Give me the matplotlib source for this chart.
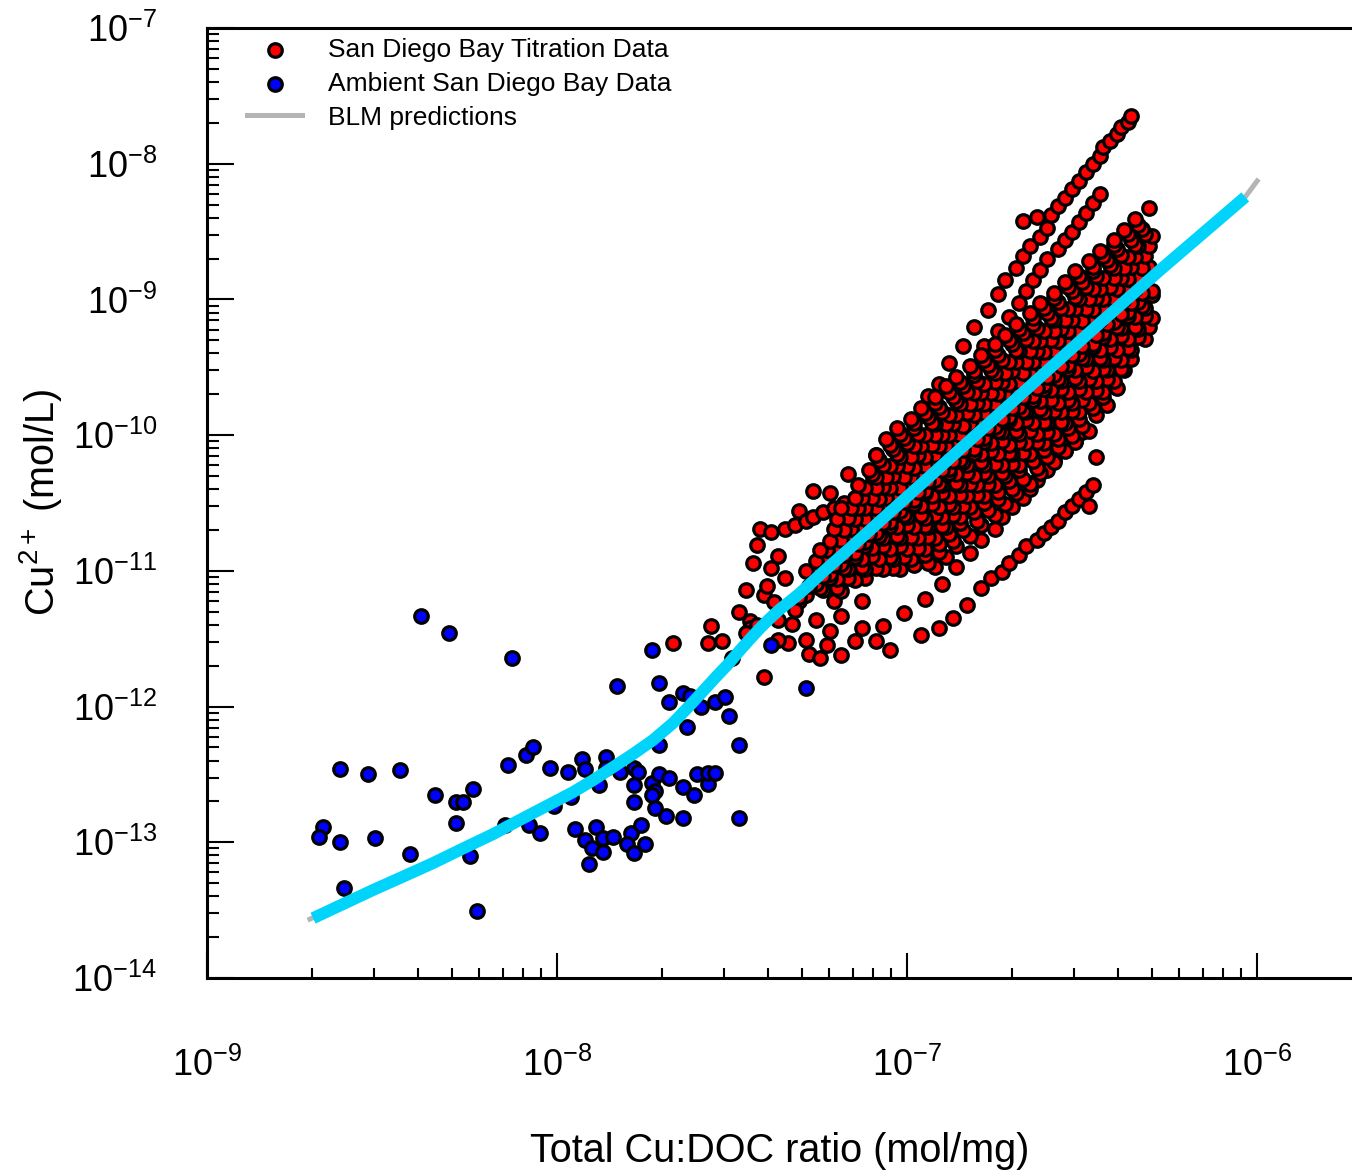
import numpy as np
import matplotlib
matplotlib.use("Agg")
import matplotlib.pyplot as plt
from matplotlib.ticker import FixedLocator, LogLocator, NullFormatter, LogFormatterSciNotation

plt.rcParams['font.family'] = ['Liberation Sans', 'DejaVu Sans']
plt.rcParams['mathtext.fontset'] = 'custom'
plt.rcParams['mathtext.rm'] = 'Liberation Sans'
plt.rcParams['mathtext.it'] = 'Liberation Sans:italic'
plt.rcParams['mathtext.bf'] = 'Liberation Sans:bold'

# all values as log10 ; x = Cu:DOC (mol/mg), y = Cu2+ (mol/L)

# ambient San Diego Bay samples
amb_x = [-8.39, -8.31, -8.13, -8.62, -8.54, -8.45, -8.35, -8.29, -8.27, -8.24,
         -8.29, -8.14, -8.09, -8.07, -8.02, -8.67, -8.68, -8.62, -8.52, -8.42,
         -8.61, -8.23, -8.25, -8.15, -8.08, -8.05, -8.01, -7.97, -7.96, -7.93,
         -7.92, -7.95, -7.92, -7.90, -7.91, -7.89, -7.88, -7.86, -7.86, -7.82,
         -7.78, -7.77, -7.78, -7.78, -7.73, -7.72, -7.73, -7.71, -7.68, -7.64,
         -7.61, -7.60, -7.57, -7.57, -7.55, -7.72, -7.69, -7.64, -7.87, -7.87,
         -7.84, -7.79, -7.76, -7.80, -7.78, -7.75, -7.73, -7.83, -7.71, -7.68,
         -7.64, -7.62, -7.63, -7.71, -7.55, -7.52, -7.51, -7.59, -7.48, -7.39,
         -7.29, -7.48]
amb_y = [-11.33, -11.46, -11.64, -12.46, -12.50, -12.47, -12.65, -12.70, -12.70, -12.61,
         -12.86, -12.43, -12.36, -12.30, -12.45, -12.89, -12.96, -13.00, -12.97, -13.09,
         -13.34, -13.51, -13.10, -12.87, -12.87, -12.93, -12.73, -12.48, -12.67, -12.39,
         -12.46, -12.90, -12.98, -13.04, -13.16, -12.89, -12.58, -12.37, -12.45, -12.48,
         -12.45, -12.48, -12.58, -12.70, -12.56, -12.62, -12.65, -12.50, -12.53, -12.59,
         -12.65, -12.50, -12.57, -12.49, -12.49, -12.75, -12.81, -12.82, -12.97, -13.07,
         -12.96, -12.93, -12.87, -13.01, -13.08, -13.01, -11.58, -11.85, -11.83, -11.97,
         -11.90, -11.92, -12.15, -12.28, -11.97, -11.93, -12.07, -12.00, -12.28, -11.55,
         -11.86, -12.82]

# titration data, sample by sample
t_low_x = [-7.56, -7.57, -7.53, -7.48, -7.45, -7.45, -7.43, -7.46, -7.41, -7.50,
           -7.46, -7.41, -7.38, -7.34, -7.37, -7.33, -7.28, -7.25, -7.67, -7.37,
           -7.39, -7.35, -7.40, -7.43, -7.44, -7.31, -7.26, -7.22, -7.19, -7.13,
           -7.29, -7.23, -7.19, -7.13, -7.21, -7.32, -7.37, -7.27, -7.22, -7.17,
           -7.09, -7.04, -7.31, -7.15, -7.09, -7.05]
t_low_y = [-11.41, -11.53, -11.52, -11.30, -11.37, -11.42, -11.40, -11.46, -11.78, -11.64,
           -11.14, -11.18, -11.23, -11.53, -11.51, -11.39, -11.61, -11.64, -11.53, -10.89,
           -10.98, -11.05, -11.11, -10.81, -10.94, -11.22, -11.36, -11.44, -11.33, -11.22,
           -11.51, -11.55, -11.62, -11.42, -11.22, -11.29, -11.36, -10.41, -10.43, -10.29,
           -10.15, -10.10, -10.56, -11.52, -11.52, -11.58]

t_uc_x = [-7.42, -7.39, -7.35, -7.32, -7.29, -7.27, -7.24, -7.21, -7.18, -7.15, -7.13, -7.10, -7.07, -7.04, -7.01]
t_uc_y = [-10.69, -10.71, -10.69, -10.66, -10.63, -10.60, -10.57, -10.54, -10.50, -10.46, -10.41, -10.35, -10.29, -10.22, -10.15]

t_s1_x = [-6.67, -6.63, -6.59, -6.57, -6.55, -6.53, -6.51, -6.49, -6.47, -6.45, -6.44, -6.42, -6.40, -6.39, -6.37, -6.36]
t_s1_y = [-8.42, -8.39, -8.38, -8.31, -8.25, -8.19, -8.13, -8.06, -8.00, -7.94, -7.88, -7.83, -7.78, -7.73, -7.69, -7.65]

t_s2_x = [-6.94, -6.91, -6.88, -6.84, -6.81, -6.77, -6.74, -6.72, -6.69, -6.67, -6.65, -6.62, -6.60]
t_s2_y = [-9.71, -9.62, -9.47, -9.34, -9.20, -9.08, -8.96, -8.86, -8.77, -8.68, -8.61, -8.54, -8.47]

t_s3_x = [-6.78, -6.74, -6.71, -6.68, -6.66, -6.64, -6.62, -6.60, -6.57, -6.55, -6.53, -6.51, -6.49, -6.47, -6.45]
t_s3_y = [-9.34, -9.23, -9.13, -9.03, -8.94, -8.86, -8.78, -8.70, -8.63, -8.56, -8.50, -8.43, -8.36, -8.29, -8.22]

t_b1_x = [-6.96, -6.91, -6.87, -6.83, -6.79, -6.76, -6.73, -6.71, -6.68, -6.66,
          -6.63, -6.61, -6.59, -6.57, -6.55, -6.53, -6.51, -6.49, -6.47, -6.48]
t_b1_y = [-11.47, -11.42, -11.35, -11.25, -11.13, -11.05, -11.01, -10.94, -10.88, -10.82,
          -10.77, -10.72, -10.68, -10.63, -10.57, -10.52, -10.47, -10.42, -10.37, -10.52]

t_b2_x = [-7.07, -7.01, -6.95, -6.90, -6.86, -6.82, -6.79, -6.75, -6.73, -6.70,
          -6.67, -6.65, -6.63, -6.60, -6.58, -6.55, -6.52, -6.50, -6.46]
t_b2_y = [-11.41, -11.31, -11.21, -11.10, -10.97, -10.87, -10.77, -10.69, -10.60, -10.53,
          -10.46, -10.40, -10.33, -10.26, -10.18, -10.11, -10.04, -9.98, -10.16]

t_f1_x = [-7.06, -7.03, -6.99, -6.96, -6.92, -6.89, -6.86, -6.82, -6.79, -6.75, -6.72, -6.69,
          -6.65, -6.62, -6.58, -6.55, -6.52, -6.48, -6.45, -6.41, -6.38, -6.35, -6.31]
t_f1_y = [-10.03, -9.95, -9.88, -9.80, -9.72, -9.64, -9.57, -9.49, -9.41, -9.33, -9.26, -9.18,
          -9.10, -9.03, -8.95, -8.87, -8.79, -8.72, -8.64, -8.56, -8.49, -8.41, -8.33]

t_f2_x = [-7.11, -7.08, -7.04, -7.01, -6.98, -6.94, -6.91, -6.87, -6.84, -6.81, -6.77, -6.74,
          -6.70, -6.67, -6.64, -6.60, -6.57, -6.53, -6.50, -6.47, -6.43, -6.40, -6.36, -6.33]
t_f2_y = [-10.26, -10.18, -10.10, -10.02, -9.95, -9.87, -9.79, -9.72, -9.64, -9.56, -9.48, -9.41,
          -9.33, -9.25, -9.18, -9.10, -9.02, -8.94, -8.87, -8.79, -8.71, -8.63, -8.56, -8.48]

t_f3_x = [-7.19, -7.15, -7.12, -7.09, -7.05, -7.02, -6.98, -6.95, -6.92, -6.88, -6.85, -6.81, -6.78, -6.75,
          -6.71, -6.68, -6.64, -6.61, -6.58, -6.54, -6.51, -6.47, -6.44, -6.41, -6.37, -6.34, -6.30]
t_f3_y = [-10.54, -10.46, -10.39, -10.31, -10.23, -10.16, -10.08, -10.00, -9.92, -9.85, -9.77, -9.69, -9.62, -9.54,
          -9.46, -9.38, -9.31, -9.23, -9.15, -9.07, -9.00, -8.92, -8.84, -8.77, -8.69, -8.61, -8.53]

t_f4_x = [-7.21, -7.17, -7.14, -7.10, -7.07, -7.04, -7.00, -6.97, -6.93, -6.90, -6.87, -6.83, -6.80, -6.76,
          -6.73, -6.70, -6.66, -6.63, -6.59, -6.56, -6.53, -6.49, -6.46, -6.42, -6.39, -6.36, -6.32]
t_f4_y = [-10.69, -10.61, -10.54, -10.46, -10.38, -10.30, -10.23, -10.15, -10.07, -10.00, -9.92, -9.84, -9.76, -9.69,
          -9.61, -9.53, -9.46, -9.38, -9.30, -9.22, -9.15, -9.07, -8.99, -8.91, -8.84, -8.76, -8.68]

t_f5_x = [-7.29, -7.26, -7.23, -7.19, -7.16, -7.12, -7.09, -7.06, -7.02, -6.99, -6.95, -6.92, -6.89, -6.85, -6.82,
          -6.78, -6.75, -6.72, -6.68, -6.65, -6.61, -6.58, -6.55, -6.51, -6.48, -6.44, -6.41, -6.38, -6.34, -6.31]
t_f5_y = [-11.00, -10.93, -10.85, -10.77, -10.69, -10.62, -10.54, -10.46, -10.39, -10.31, -10.23, -10.15, -10.08, -10.00, -9.92,
          -9.84, -9.77, -9.69, -9.61, -9.54, -9.46, -9.38, -9.30, -9.23, -9.15, -9.07, -9.00, -8.92, -8.84, -8.76]

t_f6_x = [-7.31, -7.28, -7.24, -7.21, -7.18, -7.14, -7.11, -7.07, -7.04, -7.01, -6.97, -6.94, -6.90, -6.87, -6.84,
          -6.80, -6.77, -6.73, -6.70, -6.67, -6.63, -6.60, -6.56, -6.53, -6.50, -6.46, -6.43, -6.39, -6.36, -6.33]
t_f6_y = [-11.19, -11.11, -11.04, -10.96, -10.88, -10.80, -10.73, -10.65, -10.57, -10.49, -10.42, -10.34, -10.26, -10.19, -10.11,
          -10.03, -9.95, -9.88, -9.80, -9.72, -9.65, -9.57, -9.49, -9.41, -9.34, -9.26, -9.18, -9.11, -9.03, -8.95]

t_f7_x = [-7.25, -7.22, -7.18, -7.15, -7.12, -7.08, -7.05, -7.01, -6.98, -6.95, -6.91, -6.88, -6.84, -6.81, -6.78,
          -6.74, -6.71, -6.67, -6.64, -6.61, -6.57, -6.54, -6.50, -6.47, -6.44, -6.40, -6.37, -6.33, -6.30]
t_f7_y = [-11.13, -11.05, -10.98, -10.90, -10.82, -10.74, -10.67, -10.59, -10.51, -10.43, -10.36, -10.28, -10.20, -10.13, -10.05,
          -9.97, -9.89, -9.82, -9.74, -9.66, -9.59, -9.51, -9.43, -9.35, -9.28, -9.20, -9.12, -9.05, -8.97]

t_f8_x = [-7.20, -7.17, -7.13, -7.10, -7.07, -7.03, -7.00, -6.96, -6.93, -6.90, -6.86, -6.83, -6.79, -6.76,
          -6.73, -6.69, -6.66, -6.62, -6.59, -6.56, -6.52, -6.49, -6.45, -6.42, -6.39, -6.35, -6.32]
t_f8_y = [-11.13, -11.05, -10.97, -10.89, -10.82, -10.74, -10.66, -10.59, -10.51, -10.43, -10.35, -10.28, -10.20, -10.12,
          -10.04, -9.97, -9.89, -9.81, -9.74, -9.66, -9.58, -9.50, -9.43, -9.35, -9.27, -9.20, -9.12]

t_f9_x = [-7.12, -7.09, -7.05, -7.02, -6.99, -6.95, -6.92, -6.88, -6.85, -6.82, -6.78, -6.75, -6.71,
          -6.68, -6.65, -6.61, -6.58, -6.54, -6.51, -6.48, -6.44, -6.41, -6.37, -6.34, -6.31]
t_f9_y = [-11.05, -10.98, -10.90, -10.82, -10.75, -10.67, -10.59, -10.51, -10.44, -10.36, -10.28, -10.21, -10.13,
          -10.05, -9.97, -9.90, -9.82, -9.74, -9.66, -9.59, -9.51, -9.43, -9.36, -9.28, -9.20]

t_f10_x = [-7.04, -7.01, -6.97, -6.94, -6.90, -6.87, -6.84, -6.80, -6.77, -6.73, -6.70,
           -6.67, -6.63, -6.60, -6.56, -6.53, -6.50, -6.46, -6.43, -6.39, -6.36]
t_f10_y = [-10.98, -10.90, -10.83, -10.75, -10.67, -10.59, -10.52, -10.44, -10.36, -10.28, -10.21,
           -10.13, -10.05, -9.98, -9.90, -9.82, -9.74, -9.67, -9.59, -9.51, -9.44]

t_f11_x = [-6.98, -6.95, -6.91, -6.88, -6.85, -6.81, -6.78, -6.74, -6.71, -6.68, -6.64, -6.61, -6.57, -6.54, -6.51, -6.47, -6.44, -6.40]
t_f11_y = [-10.96, -10.88, -10.80, -10.73, -10.65, -10.57, -10.50, -10.42, -10.34, -10.26, -10.19, -10.11, -10.03, -9.95, -9.88, -9.80, -9.72, -9.65]

t_f12_x = [-6.92, -6.89, -6.86, -6.82, -6.79, -6.75, -6.72, -6.69, -6.65, -6.62, -6.58, -6.55, -6.52, -6.48]
t_f12_y = [-10.97, -10.90, -10.82, -10.74, -10.66, -10.59, -10.51, -10.43, -10.36, -10.28, -10.20, -10.12, -10.05, -9.97]

t_g1_x = [-7.09, -7.05, -7.02, -6.98, -6.95, -6.92, -6.88, -6.85, -6.81, -6.78, -6.75, -6.71,
          -6.68, -6.64, -6.61, -6.58, -6.54, -6.51, -6.47, -6.44, -6.41, -6.37, -6.34]
t_g1_y = [-10.15, -10.07, -9.99, -9.91, -9.84, -9.76, -9.68, -9.61, -9.53, -9.45, -9.37, -9.30,
          -9.22, -9.14, -9.06, -8.99, -8.91, -8.83, -8.76, -8.68, -8.60, -8.52, -8.45]

t_g2_x = [-7.14, -7.10, -7.07, -7.03, -7.00, -6.97, -6.93, -6.90, -6.86, -6.83, -6.80, -6.76, -6.73,
          -6.69, -6.66, -6.63, -6.59, -6.56, -6.52, -6.49, -6.46, -6.42, -6.39, -6.35, -6.32]
t_g2_y = [-10.37, -10.29, -10.22, -10.14, -10.06, -9.99, -9.91, -9.83, -9.75, -9.68, -9.60, -9.52, -9.45,
          -9.37, -9.29, -9.21, -9.14, -9.06, -8.98, -8.91, -8.83, -8.75, -8.67, -8.60, -8.52]

t_g3_x = [-7.20, -7.16, -7.13, -7.09, -7.06, -7.03, -6.99, -6.96, -6.92, -6.89, -6.86, -6.82, -6.79, -6.75,
          -6.72, -6.69, -6.65, -6.62, -6.58, -6.55, -6.52, -6.48, -6.45, -6.41, -6.38, -6.35, -6.31]
t_g3_y = [-10.62, -10.54, -10.46, -10.39, -10.31, -10.23, -10.16, -10.08, -10.00, -9.92, -9.85, -9.77, -9.69, -9.61,
          -9.54, -9.46, -9.38, -9.31, -9.23, -9.15, -9.07, -9.00, -8.92, -8.84, -8.77, -8.69, -8.61]

t_g4_x = [-7.25, -7.22, -7.18, -7.15, -7.12, -7.08, -7.05, -7.01, -6.98, -6.95, -6.91, -6.88, -6.84, -6.81,
          -6.78, -6.74, -6.71, -6.67, -6.64, -6.61, -6.57, -6.54, -6.50, -6.47, -6.44, -6.40, -6.37, -6.33]
t_g4_y = [-10.85, -10.78, -10.70, -10.62, -10.54, -10.47, -10.39, -10.31, -10.24, -10.16, -10.08, -10.00, -9.93, -9.85,
          -9.77, -9.70, -9.62, -9.54, -9.46, -9.39, -9.31, -9.23, -9.16, -9.08, -9.00, -8.92, -8.85, -8.77]

t_g5_x = [-7.27, -7.23, -7.20, -7.17, -7.13, -7.10, -7.06, -7.03, -7.00, -6.96, -6.93, -6.89, -6.86, -6.83, -6.79,
          -6.76, -6.72, -6.69, -6.66, -6.62, -6.59, -6.55, -6.52, -6.49, -6.45, -6.42, -6.38, -6.35, -6.32]
t_g5_y = [-11.00, -10.93, -10.85, -10.77, -10.69, -10.62, -10.54, -10.46, -10.39, -10.31, -10.23, -10.15, -10.08, -10.00, -9.92,
          -9.84, -9.77, -9.69, -9.61, -9.54, -9.46, -9.38, -9.30, -9.23, -9.15, -9.07, -9.00, -8.92, -8.84]

t_g6_x = [-7.29, -7.26, -7.22, -7.19, -7.15, -7.12, -7.09, -7.05, -7.02, -6.98, -6.95, -6.92, -6.88, -6.85, -6.81,
          -6.78, -6.75, -6.71, -6.68, -6.64, -6.61, -6.58, -6.54, -6.51, -6.47, -6.44, -6.41, -6.37, -6.34, -6.30]
t_g6_y = [-11.18, -11.10, -11.02, -10.95, -10.87, -10.79, -10.72, -10.64, -10.56, -10.48, -10.41, -10.33, -10.25, -10.18, -10.10,
          -10.02, -9.94, -9.87, -9.79, -9.71, -9.63, -9.56, -9.48, -9.40, -9.33, -9.25, -9.17, -9.09, -9.02, -8.94]

t_g7_x = [-7.24, -7.20, -7.17, -7.13, -7.10, -7.07, -7.03, -7.00, -6.96, -6.93, -6.90, -6.86, -6.83, -6.79,
          -6.76, -6.73, -6.69, -6.66, -6.62, -6.59, -6.56, -6.52, -6.49, -6.45, -6.42, -6.39, -6.35, -6.32]
t_g7_y = [-11.14, -11.06, -10.99, -10.91, -10.83, -10.76, -10.68, -10.60, -10.52, -10.45, -10.37, -10.29, -10.22, -10.14,
          -10.06, -9.98, -9.91, -9.83, -9.75, -9.67, -9.60, -9.52, -9.44, -9.37, -9.29, -9.21, -9.13, -9.06]

t_g8_x = [-7.19, -7.15, -7.12, -7.08, -7.05, -7.02, -6.98, -6.95, -6.91, -6.88, -6.85, -6.81, -6.78, -6.74,
          -6.71, -6.68, -6.64, -6.61, -6.57, -6.54, -6.51, -6.47, -6.44, -6.40, -6.37, -6.34, -6.30]
t_g8_y = [-11.15, -11.07, -10.99, -10.91, -10.84, -10.76, -10.68, -10.61, -10.53, -10.45, -10.37, -10.30, -10.22, -10.14,
          -10.07, -9.99, -9.91, -9.83, -9.76, -9.68, -9.60, -9.53, -9.45, -9.37, -9.29, -9.22, -9.14]

t_g9_x = [-7.07, -7.04, -7.00, -6.97, -6.94, -6.90, -6.87, -6.83, -6.80, -6.77, -6.73, -6.70,
          -6.66, -6.63, -6.60, -6.56, -6.53, -6.49, -6.46, -6.43, -6.39, -6.36, -6.32]
t_g9_y = [-10.99, -10.91, -10.84, -10.76, -10.68, -10.60, -10.53, -10.45, -10.37, -10.30, -10.22, -10.14,
          -10.06, -9.99, -9.91, -9.83, -9.76, -9.68, -9.60, -9.52, -9.45, -9.37, -9.29]

t_g10_x = [-7.02, -6.99, -6.95, -6.92, -6.89, -6.85, -6.82, -6.78, -6.75, -6.72,
           -6.68, -6.65, -6.61, -6.58, -6.55, -6.51, -6.48, -6.44, -6.41, -6.38]
t_g10_y = [-10.99, -10.91, -10.84, -10.76, -10.68, -10.60, -10.53, -10.45, -10.37, -10.30,
           -10.22, -10.14, -10.06, -9.99, -9.91, -9.83, -9.76, -9.68, -9.60, -9.52]

t_g11_x = [-6.94, -6.91, -6.87, -6.84, -6.80, -6.77, -6.74, -6.70, -6.67, -6.63, -6.60, -6.57, -6.53, -6.50, -6.46, -6.43]
t_g11_y = [-10.94, -10.86, -10.78, -10.70, -10.63, -10.55, -10.47, -10.40, -10.32, -10.24, -10.16, -10.09, -10.01, -9.93, -9.85, -9.78]

# BLM prediction curve (grey) and the fitted curve drawn over it (cyan)
blm_x = [-8.706, -8.611, -8.526, -8.440, -8.354, -8.269, -8.183, -8.126, -8.069, -8.011, -7.954,
         -7.897, -7.840, -7.783, -7.726, -7.669, -7.620, -7.583, -7.549, -7.511, -7.477, -7.449,
         -7.420, -7.391, -7.363, -7.334, -7.306, -7.234, -7.163, -7.020, -6.877, -6.734, -6.449,
         -6.277, -6.034, -6.000]
blm_y = [-13.566, -13.455, -13.352, -13.253, -13.153, -13.046, -12.940, -12.862, -12.785, -12.707, -12.630,
         -12.542, -12.446, -12.350, -12.247, -12.122, -11.990, -11.886, -11.790, -11.687, -11.584, -11.503,
         -11.422, -11.348, -11.282, -11.223, -11.164, -10.994, -10.832, -10.500, -10.169, -9.837, -9.174,
         -8.783, -8.245, -8.127]
fit_x = [-8.697, -8.611, -8.526, -8.440, -8.354, -8.269, -8.183, -8.126, -8.069, -8.011, -7.954,
         -7.897, -7.840, -7.783, -7.726, -7.669, -7.620, -7.583, -7.549, -7.511, -7.477, -7.449,
         -7.420, -7.391, -7.363, -7.334, -7.306, -7.234, -7.163, -7.020, -6.877, -6.734, -6.449,
         -6.277, -6.034]
fit_y = [-13.559, -13.455, -13.352, -13.253, -13.153, -13.046, -12.940, -12.862, -12.785, -12.707, -12.630,
         -12.542, -12.446, -12.350, -12.247, -12.122, -11.990, -11.886, -11.790, -11.687, -11.584, -11.503,
         -11.422, -11.348, -11.282, -11.223, -11.164, -10.994, -10.832, -10.500, -10.169, -9.837, -9.174,
         -8.783, -8.245]

tit_series = [(t_low_x, t_low_y), (t_uc_x, t_uc_y), (t_s2_x, t_s2_y), (t_s3_x, t_s3_y), (t_s1_x, t_s1_y),
              (t_b1_x, t_b1_y), (t_b2_x, t_b2_y), (t_f12_x, t_f12_y), (t_g11_x, t_g11_y), (t_f11_x, t_f11_y),
              (t_g10_x, t_g10_y), (t_f10_x, t_f10_y), (t_g9_x, t_g9_y), (t_f9_x, t_f9_y), (t_g8_x, t_g8_y),
              (t_f8_x, t_f8_y), (t_g7_x, t_g7_y), (t_f7_x, t_f7_y), (t_g6_x, t_g6_y), (t_f6_x, t_f6_y),
              (t_g5_x, t_g5_y), (t_f5_x, t_f5_y), (t_g4_x, t_g4_y), (t_f4_x, t_f4_y), (t_g3_x, t_g3_y),
              (t_f3_x, t_f3_y), (t_g2_x, t_g2_y), (t_f2_x, t_f2_y), (t_g1_x, t_g1_y), (t_f1_x, t_f1_y)]
tit_x = np.concatenate([s[0] for s in tit_series])
tit_y = np.concatenate([s[1] for s in tit_series])

W, H = 1352, 1171
fig = plt.figure(figsize=(W / 100, H / 100), dpi=100)
ax = fig.add_axes([207 / W, 1 - 978 / H, 1 - 207 / W, 950 / H])

ms = 95
ax.scatter(10.0 ** tit_x, 10.0 ** tit_y, s=ms, c='#ff0000', edgecolors='black', linewidths=2.3,
           zorder=2, label='San Diego Bay Titration Data')
ax.scatter(10.0 ** np.array(amb_x), 10.0 ** np.array(amb_y), s=ms, c='#0000ff', edgecolors='black',
           linewidths=2.3, zorder=3, label='Ambient San Diego Bay Data')
ax.plot(10.0 ** np.array(blm_x), 10.0 ** np.array(blm_y), color='#b4b4b4', lw=3.6, zorder=4,
        label='BLM predictions')
ax.plot(10.0 ** np.array(fit_x), 10.0 ** np.array(fit_y), color='#00d4fa', lw=8.6, zorder=5,
        solid_capstyle='butt', solid_joinstyle='round')

ax.set_xscale('log')
ax.set_yscale('log')
ax.set_xlim(1e-9, 10 ** -5.729)
ax.set_ylim(1e-14, 1e-7)

ax.xaxis.set_major_locator(FixedLocator([1e-9, 1e-8, 1e-7, 1e-6]))
ax.yaxis.set_major_locator(FixedLocator([1e-14, 1e-13, 1e-12, 1e-11, 1e-10, 1e-9, 1e-8, 1e-7]))
ax.xaxis.set_minor_locator(LogLocator(base=10, subs=np.arange(2, 10), numticks=50))
ax.yaxis.set_minor_locator(LogLocator(base=10, subs=np.arange(2, 10), numticks=50))
ax.xaxis.set_major_formatter(LogFormatterSciNotation())
ax.yaxis.set_major_formatter(LogFormatterSciNotation())
ax.xaxis.set_minor_formatter(NullFormatter())
ax.yaxis.set_minor_formatter(NullFormatter())

ax.tick_params(axis='both', which='both', direction='in', top=False, right=False, width=1.5, colors='black')
ax.tick_params(axis='y', which='major', length=19.5, pad=36, labelsize=26)
ax.tick_params(axis='y', which='minor', length=8.5)
ax.tick_params(axis='x', which='major', length=18, pad=50, labelsize=26)
ax.tick_params(axis='x', which='minor', length=7.2)

for side in ['left', 'bottom', 'top']:
    ax.spines[side].set_linewidth(2.2)
ax.spines['right'].set_visible(False)

ax.set_xlabel('Total Cu:DOC ratio (mol/mg)', fontsize=28.5)
ax.set_ylabel('Cu$^{2+}$ (mol/L)', fontsize=28.5)
ax.xaxis.set_label_coords(0.5, -0.162)
ax.yaxis.set_label_coords(-0.125, 0.5)

ax.legend(loc='upper left', bbox_to_anchor=(0.035, 0.99), frameon=False, fontsize=19,
          handlelength=2.1, handletextpad=0.95, labelspacing=0.38, borderaxespad=0, borderpad=0,
          scatterpoints=1)

fig.savefig('out.png', dpi=100)
